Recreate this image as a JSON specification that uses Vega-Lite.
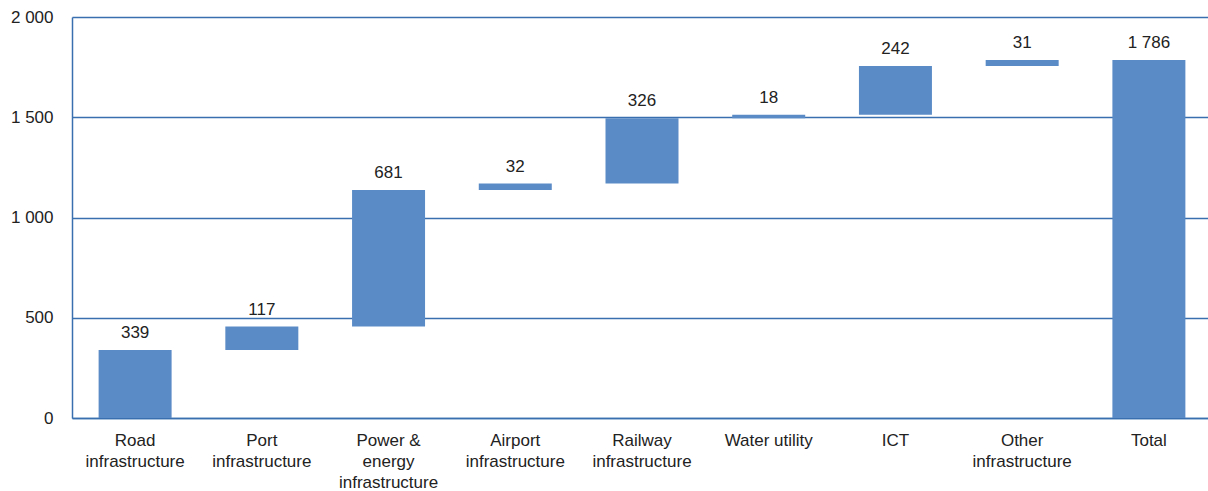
{
  "$schema": "https://vega.github.io/schema/vega-lite/v6.json",
  "width": 1136,
  "height": 401,
  "autosize": {"type": "none"},
  "padding": {"left": 72, "top": 17, "right": 0, "bottom": 73},
  "background": "white",
  "config": {
    "view": {"stroke": null},
    "font": "Liberation Sans",
    "text": {"font": "Liberation Sans"}
  },
  "data": {
    "values": [
      {"category": "Road|infrastructure", "start": 0, "end": 339, "value": 339, "label": "339"},
      {"category": "Port|infrastructure", "start": 339, "end": 456, "value": 117, "label": "117"},
      {"category": "Power &|energy|infrastructure", "start": 456, "end": 1137, "value": 681, "label": "681"},
      {"category": "Airport|infrastructure", "start": 1137, "end": 1169, "value": 32, "label": "32"},
      {"category": "Railway|infrastructure", "start": 1169, "end": 1495, "value": 326, "label": "326"},
      {"category": "Water utility", "start": 1495, "end": 1513, "value": 18, "label": "18"},
      {"category": "ICT", "start": 1513, "end": 1755, "value": 242, "label": "242"},
      {"category": "Other|infrastructure", "start": 1755, "end": 1786, "value": 31, "label": "31"},
      {"category": "Total", "start": 0, "end": 1786, "value": 1786, "label": "1 786"}
    ]
  },
  "encoding": {
    "x": {
      "field": "category",
      "type": "nominal",
      "sort": null,
      "scale": {"paddingInner": 0.424, "paddingOuter": 0.21, "range": [0, 1140]},
      "axis": {
        "title": null,
        "labelAngle": 0,
        "labelExpr": "split(datum.value, '|')",
        "labelFontSize": 17,
        "labelColor": "#222222",
        "labelFont": "Liberation Sans",
        "labelLineHeight": 21,
        "labelPadding": 14,
        "labelBaseline": "top",
        "ticks": false,
        "domainColor": "#3a6faf",
        "domainWidth": 1.5,
        "grid": false
      }
    }
  },
  "layer": [
    {
      "mark": {"type": "bar", "color": "#5a8bc7"},
      "encoding": {
        "y": {
          "field": "start",
          "type": "quantitative",
          "scale": {"domain": [0, 2000], "nice": false},
          "axis": {
            "title": null,
            "values": [0, 500, 1000, 1500, 2000],
            "labelExpr": "replace(format(datum.value, ','), ',', ' ')",
            "labelFontSize": 17,
            "labelColor": "#222222",
            "labelFont": "Liberation Sans",
            "labelPadding": 19,
            "ticks": false,
            "domainColor": "#3a6faf",
            "domainWidth": 1.5,
            "grid": true,
            "gridColor": "#3a6faf",
            "gridWidth": 1.3,
            "gridOpacity": 1
          }
        },
        "y2": {"field": "end"}
      }
    },
    {
      "mark": {"type": "text", "baseline": "bottom", "dy": -8, "fontSize": 17, "color": "#222222", "font": "Liberation Sans"},
      "encoding": {
        "y": {"field": "end", "type": "quantitative"},
        "text": {"field": "label"}
      }
    }
  ]
}
